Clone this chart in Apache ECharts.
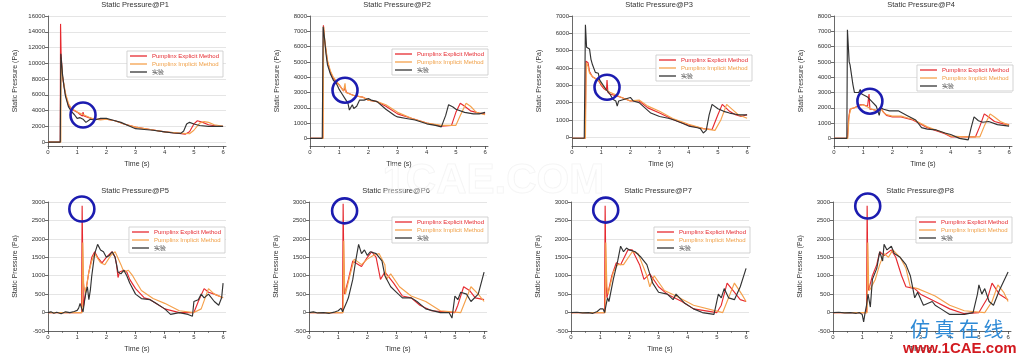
<!DOCTYPE html>
<html><head><meta charset="utf-8">
<script src="https://cdn.jsdelivr.net/npm/echarts@6/dist/echarts.min.js"></script>
<style>html,body{margin:0;padding:0;background:#fff}#c{width:1024px;height:358px}</style>
</head><body><div id="c"></div>
<script>
// ---- data: [time (s), static pressure (Pa)] ----
const titles = ['Static Pressure@P1','Static Pressure@P2','Static Pressure@P3','Static Pressure@P4','Static Pressure@P5','Static Pressure@P6','Static Pressure@P7','Static Pressure@P8'];
const seriesNames = ['Pumplinx Explicit Method','Pumplinx Implicit Method','实验'];
const xTicks = [0,1,2,3,4,5,6];
const yTicksP1 = [0,2000,4000,6000,8000,10000,12000,14000,16000];
const yTicksP2 = [0,1000,2000,3000,4000,5000,6000,7000,8000];
const yTicksP3 = [0,1000,2000,3000,4000,5000,6000,7000];
const yTicksP4 = [0,1000,2000,3000,4000,5000,6000,7000,8000];
const yTicksRow2 = [-500,0,500,1000,1500,2000,2500,3000];

const p1Red = [[0,0],[0.42,0],[0.43,15000],[0.45,11000],[0.5,8200],[0.6,6000],[0.7,4700],[0.8,4200],[1.0,3800],[1.1,3500],[1.18,3300],[1.2,3800],[1.23,3300],[1.4,3100],[1.6,2900],[1.8,2900],[2.0,2900],[2.3,2700],[2.6,2300],[3.0,1900],[3.5,1600],[4.0,1300],[4.5,1100],[4.7,1000],[4.85,1300],[5.0,2300],[5.12,2700],[5.3,2500],[5.5,2200],[5.8,2000],[6.0,2000]];
const p1Orange = [[0,0],[0.44,0],[0.45,10500],[0.5,8300],[0.6,6200],[0.7,4900],[0.8,4300],[1.0,3800],[1.2,3500],[1.22,3700],[1.25,3400],[1.5,3000],[1.8,2800],[2.0,2900],[2.3,2700],[2.6,2300],[3.0,1900],[3.5,1600],[4.0,1300],[4.5,1150],[4.85,1050],[5.0,1500],[5.2,2400],[5.35,2600],[5.5,2500],[5.7,2200],[6.0,2000]];
const p1Black = [[0,0],[0.42,0],[0.44,11200],[0.5,8500],[0.55,7000],[0.6,5800],[0.7,4500],[0.8,3900],[0.9,3500],[1.0,3000],[1.05,2900],[1.1,3100],[1.2,2900],[1.25,3100],[1.3,2500],[1.35,2700],[1.45,2900],[1.6,2800],[1.8,3000],[2.0,3000],[2.2,2800],[2.5,2500],[2.8,2000],[3.0,1700],[3.3,1600],[3.6,1500],[4.0,1300],[4.3,1150],[4.55,1100],[4.65,1400],[4.75,2300],[4.85,2500],[5.0,2300],[5.2,2100],[5.5,2000],[5.8,2000],[6.0,2000]];

const p2Red = [[0,0],[0.44,0],[0.46,7400],[0.5,6400],[0.6,5000],[0.7,4300],[0.8,3900],[1.0,3500],[1.15,3100],[1.2,3300],[1.25,3000],[1.5,2800],[1.8,2700],[2.0,2500],[2.3,2400],[2.6,2100],[3.0,1600],[3.5,1300],[4.0,1000],[4.5,800],[4.85,850],[5.0,1700],[5.15,2300],[5.3,2100],[5.5,1800],[5.8,1650],[6.0,1600]];
const p2Orange = [[0,0],[0.45,0],[0.47,7300],[0.5,6500],[0.6,5100],[0.7,4400],[0.8,4000],[1.0,3500],[1.15,3100],[1.2,3600],[1.23,3000],[1.5,2800],[1.8,2700],[2.0,2500],[2.3,2400],[2.6,2200],[3.0,1700],[3.5,1300],[4.0,1000],[4.5,850],[5.0,850],[5.15,1500],[5.35,2300],[5.5,2100],[5.7,1700],[6.0,1550]];
const p2Black = [[0,0],[0.42,0],[0.45,7300],[0.5,6500],[0.55,5500],[0.6,4800],[0.7,4200],[0.8,3800],[0.9,3600],[0.95,3400],[1.0,3200],[1.1,2900],[1.2,2600],[1.3,2300],[1.35,1850],[1.4,1900],[1.45,2200],[1.5,1950],[1.6,2100],[1.7,2500],[1.85,2500],[2.0,2600],[2.1,2500],[2.3,2400],[2.6,1900],[2.9,1500],[3.0,1400],[3.3,1300],[3.6,1200],[4.0,950],[4.3,850],[4.5,750],[4.55,700],[4.65,1500],[4.75,2200],[4.9,2050],[5.0,1900],[5.3,1700],[5.6,1600],[5.8,1600],[6.0,1700]];

const p3Red = [[0,-50],[0.45,-50],[0.48,4400],[0.55,4300],[0.6,3800],[0.7,3500],[0.9,3300],[1.0,3000],[1.1,2800],[1.18,2700],[1.2,3300],[1.23,2600],[1.3,2500],[1.5,2400],[1.7,2300],[2.0,2100],[2.3,2100],[2.6,1700],[3.0,1400],[3.5,1000],[4.0,700],[4.5,500],[4.8,450],[5.0,1300],[5.15,1900],[5.4,1500],[5.6,1300],[5.8,1200],[6.0,1300]];
const p3Orange = [[0,-50],[0.46,-50],[0.49,4300],[0.55,4100],[0.6,3700],[0.7,3500],[0.9,3300],[1.0,3100],[1.2,2700],[1.3,2600],[1.5,2450],[1.7,2300],[2.0,2100],[2.3,2150],[2.6,1800],[3.0,1500],[3.5,1050],[4.0,750],[4.5,500],[4.9,400],[5.1,1000],[5.3,1900],[5.5,1600],[5.7,1300],[6.0,1100]];
const p3Black = [[0,-50],[0.42,-50],[0.46,6500],[0.5,5200],[0.6,5100],[0.65,4500],[0.7,4200],[0.8,3750],[0.9,3700],[0.95,3300],[1.0,3200],[1.15,2800],[1.3,2500],[1.4,2200],[1.5,2100],[1.55,1800],[1.6,2100],[1.8,2200],[2.0,2300],[2.1,2100],[2.3,2000],[2.5,1700],[2.7,1400],[3.0,1200],[3.3,1100],[3.5,1000],[3.8,800],[4.0,650],[4.3,550],[4.4,500],[4.5,250],[4.6,400],[4.7,1300],[4.8,1900],[5.0,1650],[5.2,1500],[5.4,1400],[5.7,1300],[6.0,1300]];

const p4Red = [[0,0],[0.46,0],[0.5,1300],[0.55,1900],[0.7,2000],[0.9,2200],[1.0,2200],[1.15,2100],[1.2,2900],[1.23,1900],[1.3,1900],[1.5,1800],[1.6,2000],[1.7,1700],[1.8,1500],[2.0,1400],[2.3,1400],[2.5,1300],[2.7,1200],[2.9,1000],[3.2,700],[3.5,500],[3.8,300],[4.0,100],[4.5,100],[4.85,100],[5.0,800],[5.15,1600],[5.3,1400],[5.5,1100],[5.8,950],[6.0,900]];
const p4Orange = [[0,0],[0.47,0],[0.52,1500],[0.58,1950],[0.7,2000],[0.9,2150],[1.0,2200],[1.2,2000],[1.3,1900],[1.5,1800],[1.6,1950],[1.7,1700],[1.8,1550],[2.0,1450],[2.3,1450],[2.5,1350],[2.7,1250],[2.9,1050],[3.2,750],[3.5,550],[3.8,350],[4.0,150],[4.5,100],[5.0,100],[5.15,800],[5.35,1600],[5.5,1400],[5.7,1100],[6.0,850]];
const p4Black = [[0,0],[0.44,0],[0.46,7100],[0.52,5000],[0.55,4800],[0.6,4700],[0.65,3500],[0.7,3000],[0.85,3000],[0.9,3200],[0.95,2900],[1.0,2800],[1.15,2700],[1.3,2400],[1.45,2100],[1.55,1500],[1.6,2000],[1.7,1900],[1.9,1800],[2.2,1800],[2.5,1500],[2.8,1200],[3.0,700],[3.2,600],[3.5,550],[3.8,350],[4.0,250],[4.3,0],[4.6,-100],[4.7,700],[4.8,1400],[4.95,1150],[5.1,1050],[5.3,1100],[5.6,900],[5.8,850],[6.0,800]];

const p5Red = [[0,0],[1.15,0],[1.17,2900],[1.19,1500],[1.21,150],[1.3,600],[1.4,1100],[1.5,1500],[1.6,1650],[1.7,1500],[1.85,1350],[2.0,1500],[2.2,1650],[2.3,1500],[2.35,1300],[2.4,950],[2.45,1100],[2.5,1050],[2.6,1150],[2.7,1100],[2.8,900],[3.0,650],[3.3,400],[3.5,350],[4.0,100],[4.5,0],[5.0,0],[5.15,300],[5.35,650],[5.5,550],[5.7,500],[6.0,400]];
const p5Orange = [[0,0],[1.17,0],[1.19,1900],[1.22,800],[1.28,500],[1.4,1100],[1.5,1400],[1.6,1600],[1.8,1350],[1.95,1300],[2.15,1550],[2.3,1650],[2.5,1300],[2.6,1100],[2.75,1150],[2.9,1000],[3.2,600],[3.6,380],[4.0,250],[4.5,50],[5.0,0],[5.25,100],[5.5,650],[5.7,500],[6.0,400]];
const p5Black = [[0,0],[0.1,20],[0.2,-20],[0.3,10],[0.45,-30],[0.6,20],[0.75,0],[0.9,30],[1.0,60],[1.05,120],[1.1,250],[1.15,120],[1.2,20],[1.25,300],[1.3,550],[1.35,700],[1.4,350],[1.45,600],[1.5,1000],[1.6,1600],[1.7,1850],[1.8,1700],[1.9,1650],[2.0,1500],[2.1,1550],[2.2,1650],[2.3,1500],[2.4,1100],[2.5,1050],[2.6,1150],[2.7,1000],[2.8,800],[3.0,500],[3.2,380],[3.5,350],[3.7,250],[4.0,100],[4.2,-50],[4.5,0],[4.8,-50],[4.95,-100],[5.0,300],[5.15,350],[5.25,500],[5.35,400],[5.5,500],[5.7,300],[5.85,200],[5.95,400],[6.0,800]];

const p6Red = [[0,0],[1.15,0],[1.17,2950],[1.19,1500],[1.22,500],[1.35,900],[1.5,1400],[1.7,1300],[1.8,1250],[2.0,1500],[2.15,1650],[2.3,1500],[2.45,900],[2.6,1100],[2.7,1000],[2.9,800],[3.2,450],[3.5,400],[3.8,200],[4.2,50],[5.0,0],[5.1,200],[5.3,700],[5.5,600],[5.7,400],[6.0,350]];
const p6Orange = [[0,0],[1.17,0],[1.19,1950],[1.22,700],[1.25,500],[1.4,1000],[1.55,1450],[1.8,1300],[2.0,1450],[2.2,1550],[2.4,1600],[2.6,1300],[2.65,900],[2.8,1050],[3.1,700],[3.5,450],[4.0,300],[4.5,50],[5.2,0],[5.35,300],[5.55,700],[5.8,500],[6.0,300]];
const p6Black = [[0,0],[0.15,20],[0.3,-10],[0.5,0],[0.7,-20],[0.9,20],[1.0,50],[1.1,120],[1.15,20],[1.2,0],[1.3,300],[1.35,400],[1.4,350],[1.5,900],[1.6,1400],[1.7,1850],[1.8,1600],[1.9,1700],[2.0,1550],[2.1,1650],[2.3,1600],[2.5,1400],[2.6,1000],[2.8,700],[3.0,550],[3.2,400],[3.5,400],[3.7,300],[4.0,100],[4.5,0],[4.8,0],[4.9,-150],[5.0,450],[5.1,350],[5.2,550],[5.4,500],[5.55,300],[5.8,500],[6.0,1100]];

const p7Red = [[0,0],[1.15,0],[1.17,2900],[1.19,1400],[1.23,400],[1.4,1000],[1.55,1350],[1.7,1300],[1.95,1700],[2.1,1700],[2.35,1300],[2.5,900],[2.7,1050],[3.0,700],[3.3,500],[3.8,300],[4.2,100],[5.0,0],[5.15,200],[5.35,800],[5.55,600],[5.8,350],[6.0,300]];
const p7Orange = [[0,0],[1.17,0],[1.19,1900],[1.23,700],[1.27,500],[1.45,1100],[1.6,1300],[1.8,1300],[2.1,1650],[2.3,1600],[2.6,1000],[2.7,700],[2.85,1000],[3.2,600],[3.6,450],[4.2,200],[5.2,0],[5.4,400],[5.6,800],[5.85,500],[6.0,300]];
const p7Black = [[0,0],[0.2,10],[0.4,-10],[0.6,0],[0.75,-20],[0.9,30],[1.0,100],[1.1,100],[1.15,0],[1.25,400],[1.3,300],[1.45,900],[1.6,1400],[1.7,1800],[1.8,1650],[1.9,1750],[2.0,1700],[2.2,1650],[2.4,1500],[2.6,1300],[2.8,800],[3.0,550],[3.3,500],[3.5,350],[3.6,500],[3.9,250],[4.2,100],[4.5,0],[4.9,-50],[5.05,500],[5.15,400],[5.25,650],[5.4,400],[5.6,350],[5.8,700],[6.0,1200]];

const p8Red = [[0,0],[1.15,0],[1.17,2900],[1.19,1300],[1.22,600],[1.35,1000],[1.5,1300],[1.6,1650],[1.75,1550],[2.0,1700],[2.15,1500],[2.35,1000],[2.5,700],[2.8,650],[3.0,500],[3.5,300],[4.0,100],[4.5,-30],[5.0,0],[5.3,400],[5.45,800],[5.7,500],[6.0,350]];
const p8Orange = [[0,0],[1.17,0],[1.19,1900],[1.22,800],[1.25,600],[1.45,900],[1.6,1300],[1.75,1600],[1.9,1500],[2.05,1700],[2.3,1500],[2.5,1200],[2.65,700],[2.9,650],[3.2,550],[3.5,450],[4.0,200],[4.5,50],[5.2,0],[5.45,300],[5.65,750],[5.85,550],[6.0,300]];
const p8Black = [[0,0],[0.2,10],[0.4,-10],[0.6,0],[0.8,-20],[0.9,0],[1.0,-50],[1.05,-250],[1.1,0],[1.15,200],[1.2,500],[1.28,150],[1.35,900],[1.5,1200],[1.6,1650],[1.7,1400],[1.75,1850],[1.85,1700],[2.0,1800],[2.1,1600],[2.3,1500],[2.5,1300],[2.65,1000],[2.8,400],[2.9,550],[3.1,200],[3.4,300],[3.5,200],[3.7,100],[4.0,-50],[4.5,-50],[4.8,0],[4.95,500],[5.0,750],[5.1,500],[5.2,650],[5.35,300],[5.5,200],[5.7,600],[6.0,1100]];

// highlighted spots (blue circles), in data coordinates
const circleCenters = [[1.2,3430],[1.2,3150],[1.2,2890],[1.23,2430],[1.16,2810],[1.22,2760],[1.19,2780],[1.19,2890]];

// ---- assembly ----
const panelData = [
  [p1Red,p1Orange,p1Black],[p2Red,p2Orange,p2Black],[p3Red,p3Orange,p3Black],[p4Red,p4Orange,p4Black],
  [p5Red,p5Orange,p5Black],[p6Red,p6Orange,p6Black],[p7Red,p7Orange,p7Black],[p8Red,p8Orange,p8Black]
];
const yTickSets = [yTicksP1,yTicksP2,yTicksP3,yTicksP4,yTicksRow2,yTicksRow2,yTicksRow2,yTicksRow2];
const yMins = [-500,-500,-500,-500,-500,-500,-500,-500];

const FONT = 'Liberation Sans, Arial, sans-serif';
const colors = ['#e62a30','#f5a14c','#333333'];
const textColors = ['#e62a30','#f0a048','#444444'];
const lefts = [48,310,572,834,48,309,571,833];
const tops = [16,16,16,16,202,202,202,202];
const heights = [130,130,130,130,129,129,129,129];
const W = 178;
const legendRight = [801,536,272,11,799,536,274,12];
const legendTop = [51,49,55,65,227,217,227,217];
const plain = v => String(v);

const grid=[],xAxis=[],yAxis=[],series=[],title=[],legend=[];
for (let i=0;i<8;i++){
  grid.push({left:lefts[i],top:tops[i],width:W,height:heights[i],containLabel:false});
  const yt = yTickSets[i];
  xAxis.push({type:'value',gridIndex:i,min:0,max:6.1,interval:1,
    name:'Time (s)',nameLocation:'middle',nameGap:15,
    nameTextStyle:{fontSize:7,color:'#333',fontFamily:FONT},
    axisLine:{onZero:false,lineStyle:{color:'#444',width:0.8}},
    axisTick:{length:3,customValues:xTicks,lineStyle:{color:'#444',width:0.8}},
    minorTick:{show:true,splitNumber:2,length:2,lineStyle:{color:'#444',width:0.6}},
    axisLabel:{fontSize:6,color:'#333',margin:3,fontFamily:FONT,customValues:xTicks,formatter:plain},
    splitLine:{show:false}});
  const ymax = yt[yt.length-1];
  yAxis.push({type:'value',gridIndex:i,min:yMins[i],max:ymax,
    name:'Static Pressure (Pa)',nameLocation:'middle',nameGap:29,
    nameTextStyle:{fontSize:7,color:'#333',fontFamily:FONT},
    axisLine:{show:true,onZero:false,lineStyle:{color:'#444',width:0.8}},
    axisTick:{show:true,length:3,customValues:yt,lineStyle:{color:'#444',width:0.8}},
    axisLabel:{fontSize:6,color:'#333',margin:3,fontFamily:FONT,customValues:yt,formatter:plain},
    splitLine:{show:true,lineStyle:{color:'#dedede',width:0.8}}});
  title.push({text:titles[i],left:lefts[i]+W/2-2,top:tops[i]-15,textAlign:'center',padding:0,
    textStyle:{fontSize:7.5,fontWeight:'normal',color:'#333',fontFamily:FONT}});
  legend.push({orient:'vertical',right:legendRight[i],top:legendTop[i],
    selectedMode:false,icon:'rect',itemWidth:17,itemHeight:1.3,itemGap:2,
    padding:[2,4,2,3],borderColor:'#c8c8c8',borderWidth:0.8,backgroundColor:'#fff',
    textStyle:{fontSize:6,fontFamily:FONT},
    data:seriesNames.map((n,k)=>({name:n,textStyle:{color:textColors[k]}}))});
  for (let k=0;k<3;k++){
    const s = {type:'line',name:seriesNames[k],xAxisIndex:i,yAxisIndex:i,
      data:panelData[i][k],showSymbol:false,symbol:'none',animation:false,
      lineStyle:{color:colors[k],width:1.15},itemStyle:{color:colors[k]},z:2+k};
    if (k===2){
      s.markPoint={symbol:'circle',symbolSize:25,silent:true,animation:false,
        itemStyle:{color:'rgba(0,0,0,0)',borderColor:'#1c1cb0',borderWidth:2.6},
        label:{show:false},data:[{coord:circleCenters[i]}]};
    }
    series.push(s);
  }
}
const chart = echarts.init(document.getElementById('c'),null,{renderer:'canvas'});
chart.setOption({
  backgroundColor:'#fff',animation:false,
  title,grid,xAxis,yAxis,legend,series,
  graphic:[
    {type:'text',left:382,top:160,z:100,silent:true,
      style:{text:'1CAE.COM',fontSize:42,fontWeight:'bold',fontFamily:FONT,
        fill:'rgba(255,255,255,0.35)',stroke:'rgba(215,215,215,0.3)',lineWidth:1}},
    {type:'text',left:910,top:319,z:100,silent:true,
      style:{text:'仿 真 在 线',fontSize:20,fontFamily:'Noto Sans CJK SC',fill:'#2e8ad6'}},
    {type:'text',left:903,top:341,z:100,silent:true,
      style:{text:'www.1CAE.com',fontSize:15,fontWeight:'bold',fontFamily:FONT,fill:'#d21a20'}}
  ]
});
</script></body></html>
